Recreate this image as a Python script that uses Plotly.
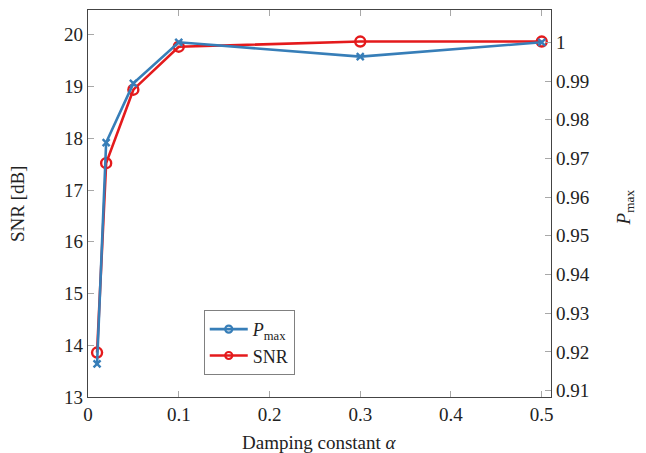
import plotly.graph_objects as go

alpha = [0.01, 0.02, 0.05, 0.1, 0.3, 0.5]
snr_db = [13.86, 17.52, 18.94, 19.77, 19.87, 19.87]
p_max = [0.9169, 0.9741, 0.9894, 1.0, 0.9963, 1.0]

x_ticks = [0, 0.1, 0.2, 0.3, 0.4, 0.5]
x_tick_text = ["0", "0.1", "0.2", "0.3", "0.4", "0.5"]
y_ticks = [13, 14, 15, 16, 17, 18, 19, 20]
y2_ticks = [0.91, 0.92, 0.93, 0.94, 0.95, 0.96, 0.97, 0.98, 0.99, 1.0]
y2_tick_text = ["0.91", "0.92", "0.93", "0.94", "0.95", "0.96", "0.97", "0.98", "0.99", "1"]

BLUE = "#377eb8"
RED = "#e41a1c"
FONT = "Liberation Serif"
FS = 19

fig = go.Figure()
fig.add_trace(go.Scatter(x=alpha, y=snr_db, mode="lines+markers", yaxis="y",
                         line=dict(color=RED, width=2.6),
                         marker=dict(symbol="circle-open", size=10, color=RED, line=dict(width=2.4)),
                         showlegend=False))
fig.add_trace(go.Scatter(x=alpha, y=p_max, mode="lines+markers", yaxis="y2",
                         line=dict(color=BLUE, width=2.6),
                         marker=dict(symbol="x-thin-open", size=7, color=BLUE, line=dict(width=2.4, color=BLUE)),
                         showlegend=False))
# legend entries (pgfplots-style: circle marks for both)
fig.add_trace(go.Scatter(x=[None], y=[None], mode="lines+markers", name="<i>P</i><sub>max</sub>",
                         line=dict(color=BLUE, width=2.6),
                         marker=dict(symbol="circle-open", size=7, color=BLUE, line=dict(width=2.2))))
fig.add_trace(go.Scatter(x=[None], y=[None], mode="lines+markers", name="SNR",
                         line=dict(color=RED, width=2.6),
                         marker=dict(symbol="circle-open", size=7, color=RED, line=dict(width=2.2))))

axis_common = dict(showgrid=False, zeroline=False, ticks="inside", ticklen=6, tickwidth=1,
                   tickcolor="#a8a8a8", showline=True, linecolor="#444444", linewidth=1.2,
                   tickfont=dict(family=FONT, size=FS, color="#222222"))

fig.update_layout(
    width=646, height=453,
    margin=dict(l=88, r=95, t=10, b=56),
    paper_bgcolor="white", plot_bgcolor="white",
    font=dict(family=FONT, size=FS, color="#222222"),
    xaxis=dict(range=[0, 0.5102], tickvals=x_ticks, ticktext=x_tick_text, mirror="ticks", **axis_common),
    yaxis=dict(range=[13, 20.48], tickvals=y_ticks, mirror=False, **axis_common),
    yaxis2=dict(range=[0.90835, 1.00835], tickvals=y2_ticks, ticktext=y2_tick_text,
                overlaying="y", side="right", **axis_common),
    legend=dict(x=0.25, y=0.225, xanchor="left", yanchor="top",
                bgcolor="white", bordercolor="#808080", borderwidth=1,
                font=dict(family=FONT, size=18, color="#222222"),
                tracegroupgap=0, itemwidth=38),
    annotations=[
        dict(text="Damping constant <i>α</i>", xref="paper", yref="paper", x=0.501, y=-0.118,
             xanchor="center", yanchor="middle", showarrow=False, font=dict(family=FONT, size=FS)),
        dict(text="SNR [dB]", xref="paper", yref="paper", x=-0.152, y=0.5, textangle=-90,
             xanchor="center", yanchor="middle", showarrow=False, font=dict(family=FONT, size=FS)),
        dict(text="<i>P</i><sub>max</sub>", xref="paper", yref="paper", x=1.16, y=0.49, textangle=-90,
             xanchor="center", yanchor="middle", showarrow=False, font=dict(family=FONT, size=FS)),
    ],
)

fig.write_html("out.html", config={"displayModeBar": False},
               post_script="document.body.style.margin='0';document.body.style.overflow='hidden';")
